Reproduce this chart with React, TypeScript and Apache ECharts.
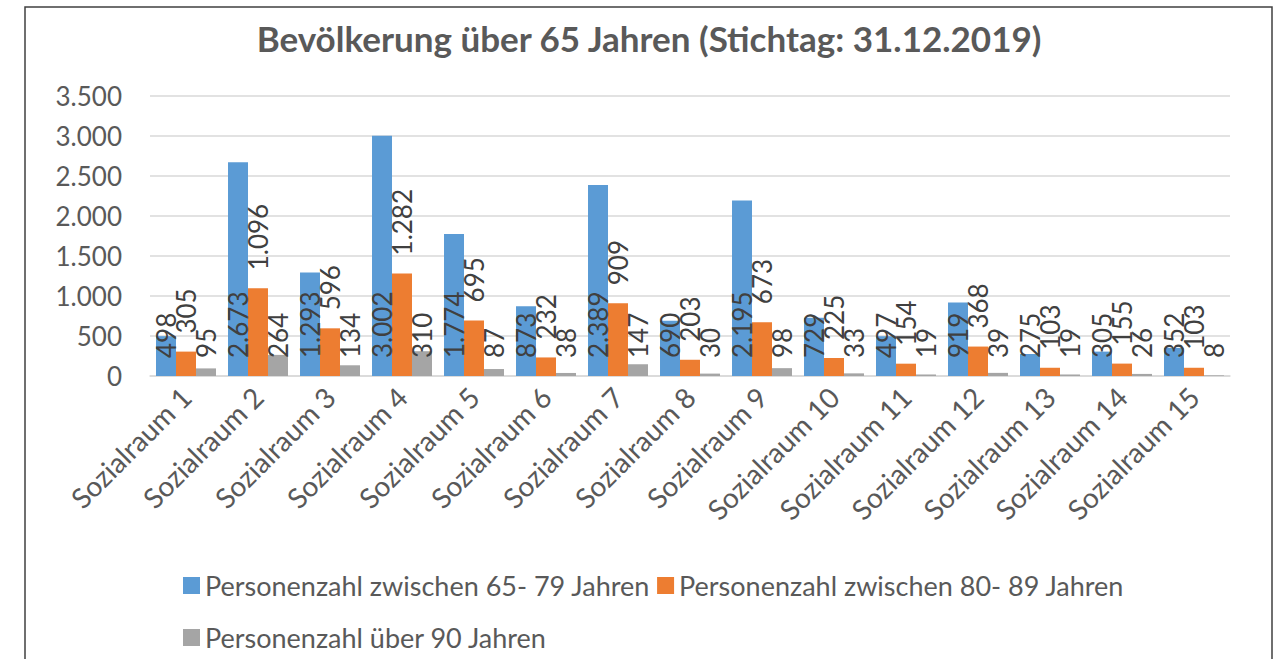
import React, { useEffect, useRef } from "react";
import * as echarts from "echarts";

const categories = [
  "Sozialraum 1", "Sozialraum 2", "Sozialraum 3", "Sozialraum 4", "Sozialraum 5",
  "Sozialraum 6", "Sozialraum 7", "Sozialraum 8", "Sozialraum 9", "Sozialraum 10",
  "Sozialraum 11", "Sozialraum 12", "Sozialraum 13", "Sozialraum 14", "Sozialraum 15",
];
const seriesNames = [
  "Personenzahl zwischen 65- 79 Jahren",
  "Personenzahl zwischen 80- 89 Jahren",
  "Personenzahl über 90 Jahren",
];
const age65to79 = [498, 2673, 1293, 3002, 1774, 873, 2389, 690, 2195, 729, 497, 919, 275, 305, 352];
const age80to89 = [305, 1096, 596, 1282, 695, 232, 909, 203, 673, 225, 154, 368, 103, 155, 103];
const age90plus = [95, 264, 134, 310, 87, 38, 147, 30, 98, 33, 19, 39, 19, 26, 8];
const yTicks = { min: 0, max: 3500, interval: 500 };
const titleText = "Bevölkerung über 65 Jahren (Stichtag: 31.12.2019)";

const colors = ["#5B9BD5", "#ED7D31", "#A5A5A5"];
const FONT = "Lato, 'Liberation Sans', sans-serif";

const fmt = (v: number) => String(Math.round(v)).replace(/\B(?=(\d{3})+(?!\d))/g, ".");

export default function App() {
  const ref = useRef<HTMLDivElement>(null);
  useEffect(() => {
    if (!ref.current) return;
    const chart = echarts.init(ref.current, undefined, { renderer: "svg" });
    const labelBase = {
      show: true,
      rotate: 90,
      align: "left" as const,
      verticalAlign: "middle" as const,
      fontFamily: FONT,
      fontSize: 26,
      color: "#404040",
      formatter: (p: any) => fmt(p.value),
    };
    const positions = [
      { position: "insideBottom", distance: 18 },
      { position: "top", distance: 18 },
      { position: "insideBottom", distance: 18 },
    ];
    const datas = [age65to79, age80to89, age90plus];
    const legendText = { fontFamily: FONT, fontSize: 27, color: "#595959" };
    chart.setOption({
      animation: false,
      backgroundColor: "#ffffff",
      textStyle: { fontFamily: FONT },
      title: {
        text: titleText,
        left: 644,
        textAlign: "center",
        top: 15,
        textStyle: { fontFamily: FONT, fontSize: 35, fontWeight: "bold", color: "#595959" },
      },
      graphic: [
        {
          type: "rect",
          shape: { x: 25, y: 7, width: 1247, height: 700 },
          style: { fill: "none", stroke: "#404040", lineWidth: 1.5 },
          z: -1,
        },
      ],
      legend: [
        {
          data: [seriesNames[0], seriesNames[1]],
          left: 178,
          top: 567,
          icon: "rect",
          itemWidth: 17,
          itemHeight: 17,
          itemGap: 7,
          textStyle: legendText,
        },
        {
          data: [seriesNames[2]],
          left: 178,
          top: 619,
          icon: "rect",
          itemWidth: 17,
          itemHeight: 17,
          itemGap: 7,
          textStyle: legendText,
        },
      ],
      grid: { left: 150, right: 52, top: 96, bottom: 283, containLabel: false },
      xAxis: {
        type: "category",
        data: categories,
        axisTick: { show: false },
        axisLine: { lineStyle: { color: "#D9D9D9", width: 1.5 } },
        axisLabel: {
          interval: 0,
          rotate: 45,
          margin: 16,
          fontFamily: FONT,
          fontSize: 28,
          color: "#595959",
        },
      },
      yAxis: {
        type: "value",
        min: yTicks.min,
        max: yTicks.max,
        interval: yTicks.interval,
        axisLine: { show: false },
        axisTick: { show: false },
        splitLine: { lineStyle: { color: "#D9D9D9", width: 1.5 } },
        axisLabel: {
          margin: 28,
          fontFamily: FONT,
          fontSize: 26,
          color: "#595959",
          formatter: (v: number) => fmt(v),
        },
      },
      series: seriesNames.map((name, i) => ({
        name,
        type: "bar",
        data: datas[i],
        barGap: "0%",
        barCategoryGap: "16.7%",
        itemStyle: { color: colors[i] },
        label: { ...labelBase, ...positions[i] },
      })),
    });
    return () => chart.dispose();
  }, []);
  return (
    <div
      ref={ref}
      style={{ position: "absolute", left: 0, top: 0, width: 1282, height: 659, background: "#fff" }}
    />
  );
}
